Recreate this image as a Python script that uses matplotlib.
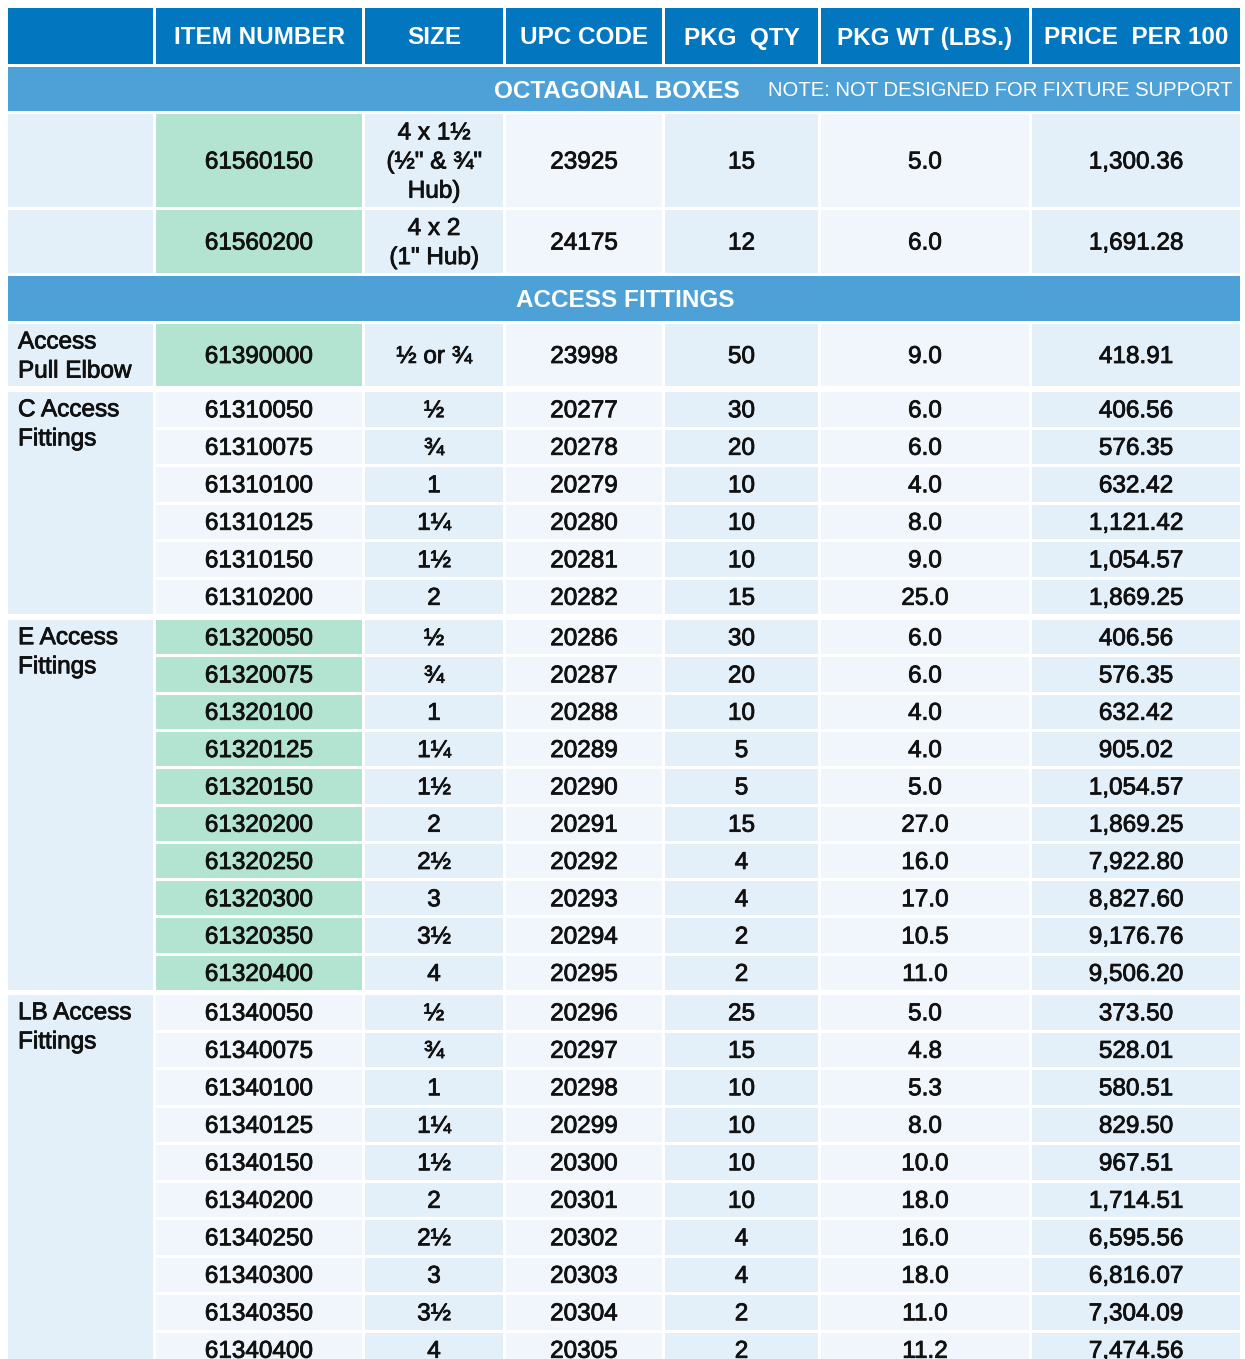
import matplotlib
matplotlib.use("Agg")
import matplotlib.pyplot as plt
from matplotlib.patches import Rectangle
import matplotlib.patheffects as pe

plt.rcParams['font.family'] = ['Liberation Sans', 'DejaVu Sans']

# ---- data ----
headers = ["", "ITEM NUMBER", "SIZE", "UPC CODE", "PKG  QTY", "PKG WT (LBS.)", "PRICE  PER 100"]

items = ["61560150", "61560200", "61390000",
         "61310050", "61310075", "61310100", "61310125", "61310150", "61310200",
         "61320050", "61320075", "61320100", "61320125", "61320150", "61320200",
         "61320250", "61320300", "61320350", "61320400",
         "61340050", "61340075", "61340100", "61340125", "61340150", "61340200",
         "61340250", "61340300", "61340350", "61340400"]
sizes = ["4 x 1½\n(½\" & ¾\"\nHub)", "4 x 2\n(1\" Hub)", "½ or ¾",
         "½", "¾", "1", "1¼", "1½", "2",
         "½", "¾", "1", "1¼", "1½", "2", "2½", "3", "3½", "4",
         "½", "¾", "1", "1¼", "1½", "2", "2½", "3", "3½", "4"]
upc = ["23925", "24175", "23998",
       "20277", "20278", "20279", "20280", "20281", "20282",
       "20286", "20287", "20288", "20289", "20290", "20291", "20292", "20293", "20294", "20295",
       "20296", "20297", "20298", "20299", "20300", "20301", "20302", "20303", "20304", "20305"]
pkg_qty = ["15", "12", "50",
           "30", "20", "10", "10", "10", "15",
           "30", "20", "10", "5", "5", "15", "4", "4", "2", "2",
           "25", "15", "10", "10", "10", "10", "4", "4", "2", "2"]
pkg_wt = ["5.0", "6.0", "9.0",
          "6.0", "6.0", "4.0", "8.0", "9.0", "25.0",
          "6.0", "6.0", "4.0", "4.0", "5.0", "27.0", "16.0", "17.0", "10.5", "11.0",
          "5.0", "4.8", "5.3", "8.0", "10.0", "18.0", "16.0", "18.0", "11.0", "11.2"]
price = ["1,300.36", "1,691.28", "418.91",
         "406.56", "576.35", "632.42", "1,121.42", "1,054.57", "1,869.25",
         "406.56", "576.35", "632.42", "905.02", "1,054.57", "1,869.25",
         "7,922.80", "8,827.60", "9,176.76", "9,506.20",
         "373.50", "528.01", "580.51", "829.50", "967.51", "1,714.51",
         "6,595.56", "6,816.07", "7,304.09", "7,474.56"]

# groups: (label, rows, green item cells, row pitch, band before, space before)
groups = [("", 1, True, 96, "OCTAGONAL BOXES", 0),
          ("", 1, True, 66, None, 0),
          ("Access\nPull Elbow", 1, True, 65, "ACCESS FITTINGS", 0),
          ("C Access\nFittings", 6, False, 37.5, None, 3),
          ("E Access\nFittings", 10, True, 37.3, None, 3),
          ("LB Access\nFittings", 10, False, 37.5, None, 2)]
note = "NOTE: NOT DESIGNED FOR FIXTURE SUPPORT"

# ---- layout / style ----
W, H = 1245, 1359
col_edges = [8, 156, 365, 506, 665, 821, 1032, 1243]
gap = 3
DARK = "#0277BF"
BAND = "#4DA1D6"
BLUE = "#E3F0F9"
PALE = "#F0F6FB"
GREEN = "#B3E3D1"
TXT = "#111111"
FS = 17.5
LS = 1.42
heavy = [pe.withStroke(linewidth=0.6, foreground=TXT)]

fig = plt.figure(figsize=(W / 100, H / 100), dpi=100)
ax = fig.add_axes([0, 0, 1, 1])
ax.set_xlim(0, W)
ax.set_ylim(H, 0)
ax.axis("off")


def cell(x0, x1, y0, y1, color):
    ax.add_patch(Rectangle((x0, y0), x1 - x0 - gap, y1 - y0 - gap,
                           facecolor=color, edgecolor="none"))


col_bg = [BLUE, PALE, BLUE, PALE, BLUE, PALE, BLUE]

# header
y = 8
hh = 59
for c in range(7):
    cell(col_edges[c], col_edges[c + 1], y, y + hh, DARK)
    if headers[c]:
        ax.text((col_edges[c] + col_edges[c + 1] - gap) / 2, y + (hh - gap) / 2 + 2,
                headers[c], color="white", fontsize=FS, fontweight="bold",
                ha="center", va="center")
y += hh

row = 0
for label, n, green, rh, band, space in groups:
    if band:
        bh = 47 if band.startswith("OCT") else 48
        cell(col_edges[0], col_edges[-1], y, y + bh, BAND)
        cy = y + (bh - gap) / 2 + 2
        if band.startswith("OCT"):
            ax.text(740, cy, band, color="white", fontsize=FS, fontweight="bold",
                    ha="right", va="center")
            ax.text(1233, cy, note, color="white", fontsize=14.6,
                    ha="right", va="center")
        else:
            ax.text((col_edges[0] + col_edges[-1]) / 2, cy, band, color="white",
                    fontsize=FS, fontweight="bold", ha="center", va="center")
        y += bh
    y += space
    g0 = y
    for r in range(n):
        y0 = g0 + r * rh
        y1 = y0 + rh
        cy = y0 + (rh - gap) / 2 + 2
        for c in range(1, 7):
            color = GREEN if (c == 1 and green) else col_bg[c]
            cell(col_edges[c], col_edges[c + 1], y0, y1, color)
        vals = [items[row], sizes[row], upc[row], pkg_qty[row], pkg_wt[row], price[row]]
        for c, v in enumerate(vals, start=1):
            ax.text((col_edges[c] + col_edges[c + 1] - gap) / 2, cy, v, color=TXT,
                    fontsize=FS, ha="center", va="center", linespacing=LS,
                    path_effects=heavy)
        row += 1
    y = g0 + n * rh
    cell(col_edges[0], col_edges[1], g0, max(y, H + 10) if label.startswith("LB") else y, BLUE)
    if label:
        if n == 1:
            ax.text(18, g0 + (rh - gap) / 2 + 2, label, color=TXT, fontsize=FS,
                    ha="left", va="center", linespacing=LS, path_effects=heavy)
        else:
            ax.text(18, g0 + (rh - gap) / 2 - 10, label, color=TXT, fontsize=FS,
                    ha="left", va="top", linespacing=LS, path_effects=heavy)

fig.savefig("out.png", dpi=100, facecolor="white")
